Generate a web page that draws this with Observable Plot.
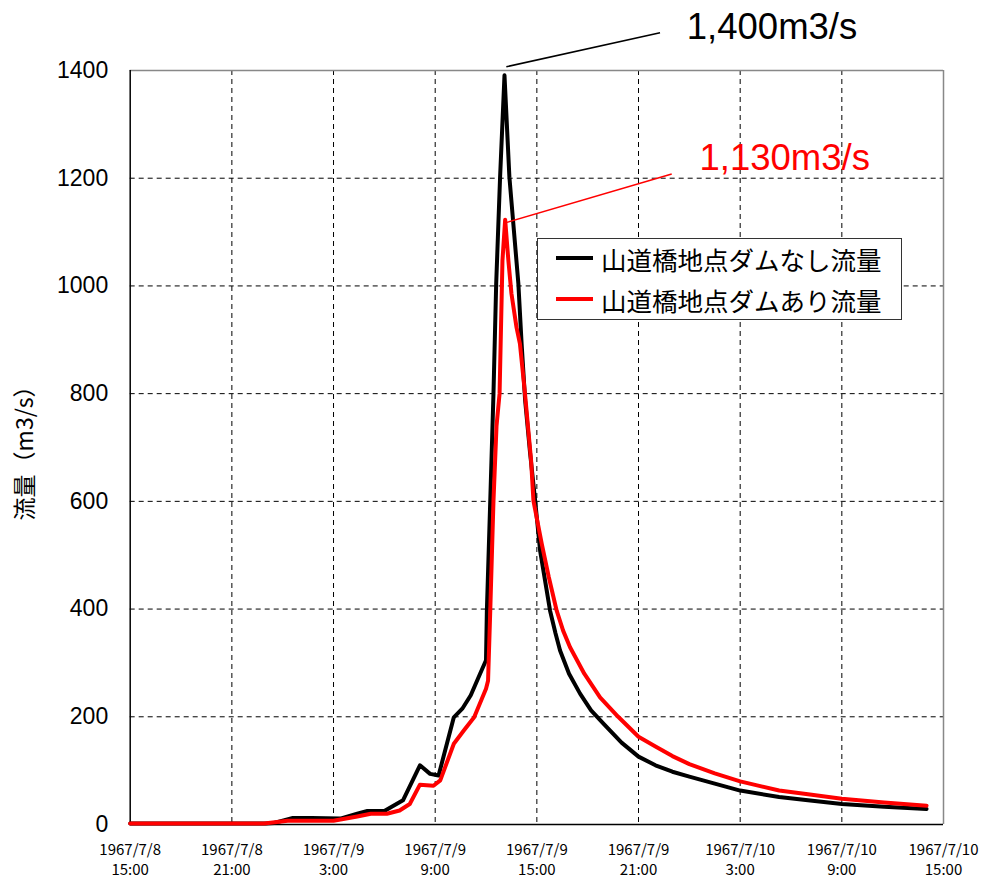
<!DOCTYPE html>
<html>
<head>
<meta charset="utf-8">
<script src="https://cdn.jsdelivr.net/npm/d3@7"></script>
<script src="https://cdn.jsdelivr.net/npm/@observablehq/plot@0.6"></script>
<style>
  body { margin: 0; background: #fff; }
  #wrap { position: relative; width: 987px; height: 878px; }
  #legend { position: absolute; left: 537px; top: 238px; width: 365px; height: 82px;
    border: 1px solid #333; background: #fff; box-sizing: border-box;
    font-family: "Noto Sans CJK JP", sans-serif; font-size: 25.5px; color: #000; }
  .item { position: absolute; left: 0; height: 30px; display: flex; align-items: center; }
  .swatch { width: 37px; height: 4px; margin-left: 18px; margin-right: 8px; }
</style>
</head>
<body>
<div id="wrap"></div>
<script>
// ---- data (hours after 1967/7/8 15:00, flow m3/s) ----
const hoursNoDam = [0, 8, 8.5, 9.6, 10.7, 12.4, 13.4, 14.0, 15.0, 16.1, 17.1, 17.7, 18.2, 19.1, 19.6, 20.1, 20.65, 21.0,
  21.05, 21.25, 21.44, 21.6, 21.83, 22.09, 22.38, 22.91, 23.1, 23.31, 23.6, 23.9, 24.19, 24.5, 24.78, 25.1, 25.37,
  25.9, 26.55, 27.2, 28, 29, 30, 31, 32, 33, 34.5, 36, 38.3, 40, 42, 44.5, 47];
const flowNoDam = [2, 2, 3, 12, 12, 11, 20, 25, 25, 45, 110, 94, 91, 199, 215, 240, 280, 305,
  397, 601, 800, 1004, 1202, 1391, 1202, 1004, 893, 787, 690, 601, 509, 450, 397, 355, 323,
  280, 243, 212, 185, 152, 126, 110, 98, 89, 76, 63, 51, 45, 38, 33, 29];

const hoursWithDam = [0, 7.9, 9.3, 12, 13.4, 14.2, 15.15, 15.9, 16.5, 17.1, 17.9, 18.3, 19.1, 19.7, 20.3, 21.0, 21.12,
  21.25, 21.44, 21.62, 21.8, 21.97, 22.13, 22.32, 22.5, 22.8, 23.0, 23.3, 23.66, 23.8, 24.29, 24.7, 25.17, 25.55,
  25.96, 26.8, 27.73, 28.8, 30, 31, 32, 33, 34.5, 36, 38.3, 40, 42, 44.5, 47];
const flowWithDam = [2, 2, 7, 7, 15, 20, 20, 26, 38, 74, 72, 82, 150, 175, 199, 252, 267,
  397, 601, 740, 800, 1047, 1123, 1047, 986, 923, 893, 800, 676, 601, 521, 460, 397, 360,
  329, 280, 236, 200, 163, 145, 127, 112, 95, 80, 63, 56, 48, 41, 35];

const seriesNames = ["山道橋地点ダムなし流量", "山道橋地点ダムあり流量"];
const seriesColors = ["#000000", "#ff0000"];

const xTickHours = [0, 6, 12, 18, 24, 30, 36, 42, 48];
const xTickLabels = ["1967/7/8\n15:00", "1967/7/8\n21:00", "1967/7/9\n3:00", "1967/7/9\n9:00", "1967/7/9\n15:00",
  "1967/7/9\n21:00", "1967/7/10\n3:00", "1967/7/10\n9:00", "1967/7/10\n15:00"];
const yTicks = [0, 200, 400, 600, 800, 1000, 1200, 1400];
const yLabel = "流量（m3/s）";

// peak annotations: label text, leader start/end and label anchor (hours, m3/s)
const annoLabels = ["1,400m3/s", "1,130m3/s"];
const annoLeaderFrom = [[22.2, 1407], [22.23, 1118]];
const annoLeaderTo = [[31.27, 1470], [31.96, 1208]];
const annoTextAt = [[32.85, 1480], [33.6, 1237]];

// ---- build ----
const start = new Date(1967, 6, 8, 15, 0);
const toDate = h => new Date(start.getTime() + h * 3600e3);

const rowsNoDam = hoursNoDam.map((h, i) => ({t: toDate(h), v: flowNoDam[i]}));
const rowsWithDam = hoursWithDam.map((h, i) => ({t: toDate(h), v: flowWithDam[i]}));
const xTicks = xTickHours.map(toDate);
const labelOf = new Map(xTicks.map((d, i) => [+d, xTickLabels[i]]));
const annos = annoLabels.map((s, i) => ({
  label: s, color: seriesColors[i],
  x1: toDate(annoLeaderFrom[i][0]), y1: annoLeaderFrom[i][1],
  x2: toDate(annoLeaderTo[i][0]), y2: annoLeaderTo[i][1],
  tx: toDate(annoTextAt[i][0]), ty: annoTextAt[i][1]
}));

const W = 987, H = 878;
const mL = 129.7, mR = 44, mT = 70, mB = 54;

const chart = Plot.plot({
  width: W, height: H,
  marginLeft: mL, marginRight: mR, marginTop: mT, marginBottom: mB,
  style: {background: "#fff", overflow: "visible"},
  x: {type: "time", domain: [toDate(0), toDate(48)]},
  y: {domain: [0, 1400]},
  marks: [
    // grid
    Plot.gridX(xTicks.slice(1, -1), {stroke: "#000", strokeOpacity: 1, strokeWidth: 1, strokeDasharray: "5,4"}),
    Plot.gridY(yTicks.slice(1, -1), {stroke: "#000", strokeOpacity: 1, strokeWidth: 1, strokeDasharray: "5,4"}),
    Plot.ruleY([1400], {stroke: "#888", strokeWidth: 1.5}),
    Plot.ruleX([toDate(48)], {stroke: "#888", strokeWidth: 1.5}),
    // axes
    Plot.axisY(yTicks, {tickSize: 0, tickPadding: 22, fontSize: 23, fontFamily: "Liberation Sans, Arial, sans-serif",
      tickFormat: d => String(d), label: null, color: "#000"}),
    Plot.axisX(xTicks, {tickSize: 0, tickPadding: 17, fontSize: 15, fontFamily: "Noto Sans CJK JP, sans-serif",
      lineHeight: 1.3, tickFormat: d => labelOf.get(+d), label: null, color: "#000"}),
    Plot.text([yLabel], {frameAnchor: "left", textAnchor: "middle", rotate: -90, dx: -105, fontSize: 23,
      fontFamily: "Noto Sans CJK JP, sans-serif", fill: "#000"}),
    Plot.ruleX([toDate(0)], {stroke: "#000", strokeWidth: 1.5}),
    Plot.ruleY([0], {stroke: "#000", strokeWidth: 1.5}),
    // series
    Plot.line(rowsNoDam, {x: "t", y: "v", stroke: seriesColors[0], strokeWidth: 4, strokeLinejoin: "round"}),
    Plot.line(rowsWithDam, {x: "t", y: "v", stroke: seriesColors[1], strokeWidth: 4, strokeLinejoin: "round"}),
    // annotations
    Plot.link(annos, {x1: "x1", y1: "y1", x2: "x2", y2: "y2", stroke: "color", strokeWidth: 1.5}),
    Plot.text(annos, {x: "tx", y: "ty", text: "label", fill: "color", textAnchor: "start", fontSize: 36.5,
      fontFamily: "Liberation Sans, Arial, sans-serif"})
  ]
});

const wrap = document.getElementById("wrap");
wrap.appendChild(chart);

const legend = document.createElement("div");
legend.id = "legend";
seriesNames.forEach((name, i) => {
  const it = document.createElement("div");
  it.className = "item";
  it.style.top = (i === 0 ? 4 : 45) + "px";
  const sw = document.createElement("div");
  sw.className = "swatch";
  sw.style.background = seriesColors[i];
  const tx = document.createElement("span");
  tx.textContent = name;
  it.appendChild(sw); it.appendChild(tx);
  legend.appendChild(it);
});
wrap.appendChild(legend);
</script>
</body>
</html>
